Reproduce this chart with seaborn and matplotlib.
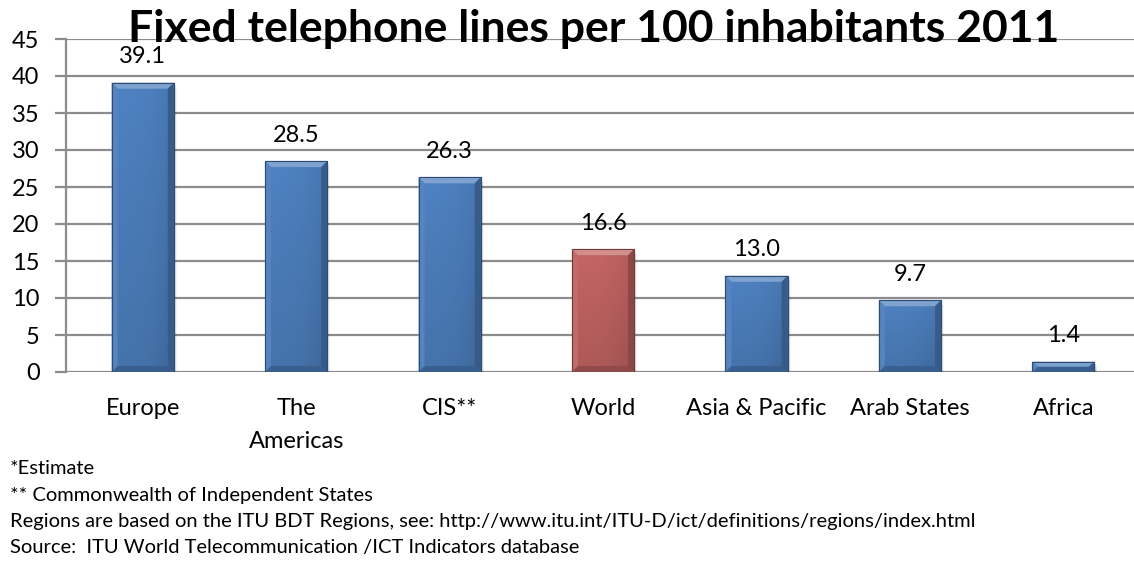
import numpy as np
import pandas as pd
import matplotlib
matplotlib.use("Agg")
import matplotlib.pyplot as plt
import seaborn as sns
from matplotlib.patches import Polygon, Rectangle
from matplotlib.colors import to_rgb

# --- data -------------------------------------------------------------
regions = ["Europe", "The\nAmericas", "CIS**", "World",
           "Asia & Pacific", "Arab States", "Africa"]
lines_per_100 = [39.1, 28.5, 26.3, 16.6, 13.0, 9.7, 1.4]
value_labels = ["39.1", "28.5", "26.3", "16.6", "13.0", "9.7", "1.4"]
group = ["Region", "Region", "Region", "World", "Region", "Region", "Region"]
y_ticks = [0, 5, 10, 15, 20, 25, 30, 35, 40, 45]
title = "Fixed telephone lines per 100 inhabitants 2011"
footnotes = [
    "*Estimate",
    "** Commonwealth of Independent States",
    "Regions are based on the ITU BDT Regions, see: "
    "http://www.itu.int/ITU-D/ict/definitions/regions/index.html",
    "Source:  ITU World Telecommunication /ICT Indicators database",
]

# --- style ------------------------------------------------------------
sns.set_theme(style="white")
plt.rcParams["font.family"] = ["Lato", "DejaVu Sans"]
GRID = "#8c8c8c"
palette = {"Region": "#3a7dd0", "World": "#d05452"}
LABEL_PT = 17

W, H = 1134, 566
fig = plt.figure(figsize=(W / 100, H / 100), dpi=100)
fig.patch.set_facecolor("white")
ax = fig.add_axes([66 / W, 194 / H, (W - 66) / W, 333 / H])

df = pd.DataFrame({"region": regions, "value": lines_per_100, "group": group})
sns.barplot(data=df, x="region", y="value", hue="group", palette=palette,
            width=0.405, dodge=False, legend=False, ax=ax, zorder=3)

ax.set_xlim(-0.5, 6.46)
ax.set_ylim(0, 45)
ax.set_yticks(y_ticks)
ax.set_xlabel("")
ax.set_ylabel("")
ax.set_facecolor("white")
ax.yaxis.grid(True, color=GRID, lw=1.6)
ax.xaxis.grid(False)
ax.set_axisbelow(True)
for s in ["top", "right", "bottom"]:
    ax.spines[s].set_visible(False)
ax.spines["left"].set_color(GRID)
ax.spines["left"].set_linewidth(1.6)
ax.tick_params(axis="y", left=True, length=8, width=1.6, color=GRID,
               labelsize=LABEL_PT, pad=11, labelcolor="black")
ax.tick_params(axis="x", bottom=False, length=0, labelsize=LABEL_PT, pad=19,
               labelcolor="black")
for t in ax.get_xticklabels():
    t.set_linespacing(1.7)
    t.set_verticalalignment("top")

# --- bevelled, shaded bars ---------------------------------------------
fig.canvas.draw()
px_per_x = ax.bbox.width / (ax.get_xlim()[1] - ax.get_xlim()[0])
px_per_y = ax.bbox.height / (ax.get_ylim()[1] - ax.get_ylim()[0])
bevel_px = 6.0


def shade(rgb, f):
    rgb = np.asarray(rgb)
    if f >= 1:
        return tuple(rgb + (1 - rgb) * (f - 1))
    return tuple(rgb * f)


bars = [p for p in ax.patches if isinstance(p, Rectangle) and p.get_height() > 0]
for bar in bars:
    x0, y0 = bar.get_x(), bar.get_y()
    w, h = bar.get_width(), bar.get_height()
    x1, y1 = x0 + w, y0 + h
    base = to_rgb(bar.get_facecolor())

    # soft drop shadow
    for k, a in enumerate([0.10, 0.07, 0.04]):
        off_x = (2 + k * 1.5) / px_per_x
        off_y = (2 + k * 1.5) / px_per_y
        ax.add_patch(Rectangle((x0 + off_x * 0.6, y0 - off_y), w, h,
                               facecolor="black", alpha=a, lw=0, zorder=2))

    # body gradient: lighter at top, darker toward bottom and right edge
    ny, nx = 60, 40
    vy = np.linspace(1.0, 0.0, ny)[:, None]          # 1 at top
    vx = np.linspace(0.0, 1.0, nx)[None, :]
    fac = 0.90 + 0.12 * vy - 0.10 * (vx ** 3)
    img = np.clip(np.asarray(base)[None, None, :] * fac[..., None], 0, 1)
    im = ax.imshow(img, extent=(x0, x1, y0, y1), origin="upper",
                   aspect="auto", zorder=3.5, interpolation="bilinear")
    im.set_clip_path(bar)
    bar.set_edgecolor(shade(base, 0.6))
    bar.set_linewidth(0.8)

    dx = bevel_px / px_per_x
    dy = min(bevel_px / px_per_y, h / 2.0)
    top = [(x0, y1), (x1, y1), (x1 - dx, y1 - dy), (x0 + dx, y1 - dy)]
    left = [(x0, y0), (x0, y1), (x0 + dx, y1 - dy), (x0 + dx, y0 + dy)]
    right = [(x1, y0), (x1, y1), (x1 - dx, y1 - dy), (x1 - dx, y0 + dy)]
    bottom = [(x0, y0), (x1, y0), (x1 - dx, y0 + dy), (x0 + dx, y0 + dy)]
    for poly, f in [(top, 1.30), (left, 1.05), (right, 0.72), (bottom, 0.75)]:
        ax.add_patch(Polygon(poly, closed=True, facecolor=shade(base, f),
                             lw=0, zorder=4, alpha=0.95))
    ax.add_patch(Rectangle((x0, y0), w, h, fill=False,
                           edgecolor=shade(base, 0.6), lw=0.8, zorder=4.5))

# --- value labels ------------------------------------------------------
for i, (v, lab) in enumerate(zip(lines_per_100, value_labels)):
    ax.annotate(lab, xy=(i, v), xytext=(0, 14), textcoords="offset points",
                ha="center", va="baseline", fontsize=LABEL_PT, color="black",
                zorder=6)

# --- title and notes ---------------------------------------------------
fig.text(594 / W, (H - 42) / H, title, ha="center", va="baseline",
         fontsize=32, fontweight="bold", color="black", zorder=10)

for k, note in enumerate(footnotes):
    fig.text(10 / W, (H - (474 + 26.5 * k)) / H, note, ha="left",
             va="baseline", fontsize=14.5, color="black")

fig.savefig("out.png", dpi=100, facecolor="white")
